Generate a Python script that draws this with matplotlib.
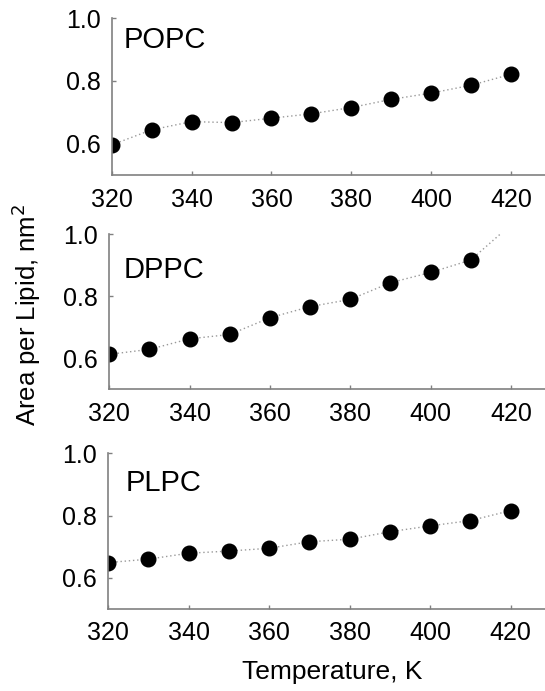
import matplotlib
matplotlib.use('Agg')
import matplotlib.pyplot as plt

plt.rcParams['font.family'] = ['Liberation Sans', 'DejaVu Sans']

## Data
temps = [320, 330, 340, 350, 360, 370, 380, 390, 400, 410, 420]
popc = [0.596, 0.644, 0.670, 0.667, 0.681, 0.695, 0.715, 0.741, 0.761, 0.786, 0.821]
dppc = [0.612, 0.628, 0.662, 0.676, 0.730, 0.766, 0.789, 0.843, 0.876, 0.916, 1.03]
plpc = [0.649, 0.660, 0.679, 0.686, 0.695, 0.716, 0.724, 0.748, 0.767, 0.784, 0.816]
names = ['POPC', 'DPPC', 'PLPC']
series = [popc, dppc, plpc]
xticks = [320, 340, 360, 380, 400, 420]
yticks = [0.6, 0.8, 1.0]

fig = plt.figure(figsize=(5.45, 6.91), dpi=100)

rects = [[0.205, 0.7467, 0.795, 0.2272],
         [0.2006, 0.4370, 0.7994, 0.2243],
         [0.1982, 0.1187, 0.8018, 0.2253]]
label_pos = [(322.9, 0.93), (323.5, 0.884), (324.3, 0.904)]

spine_col = '#808080'

for rect, name, vals, lp in zip(rects, names, series, label_pos):
    ax = fig.add_axes(rect)
    ax.plot(temps, vals, color='#999999', linestyle=(0, (1, 2)), linewidth=1.0,
            marker='o', markersize=10.5, markerfacecolor='black', markeredgecolor='black')
    ax.set_xlim(320, 428.5)
    ax.set_ylim(0.5, 1.0)
    ax.set_xticks(xticks)
    ax.set_yticks(yticks)
    ax.set_yticklabels(['%.1f' % v for v in yticks])
    for s in ['top', 'right']:
        ax.spines[s].set_visible(False)
    for s in ['left', 'bottom']:
        ax.spines[s].set_color(spine_col)
        ax.spines[s].set_linewidth(1.2)
    ax.tick_params(axis='both', direction='in', length=3, width=1, color=spine_col,
                   labelsize=18)
    ax.tick_params(axis='x', pad=9)
    ax.tick_params(axis='y', pad=8)
    ax.text(lp[0], lp[1], name, fontsize=21, ha='left', va='center')

fig.text(0.048, 0.544, 'Area per Lipid, nm$^2$', rotation=90, fontsize=18.5,
         ha='center', va='center')
fig.text(0.609, 0.0275, 'Temperature, K', fontsize=19, ha='center', va='center')

plt.savefig('out.png', dpi=100)
